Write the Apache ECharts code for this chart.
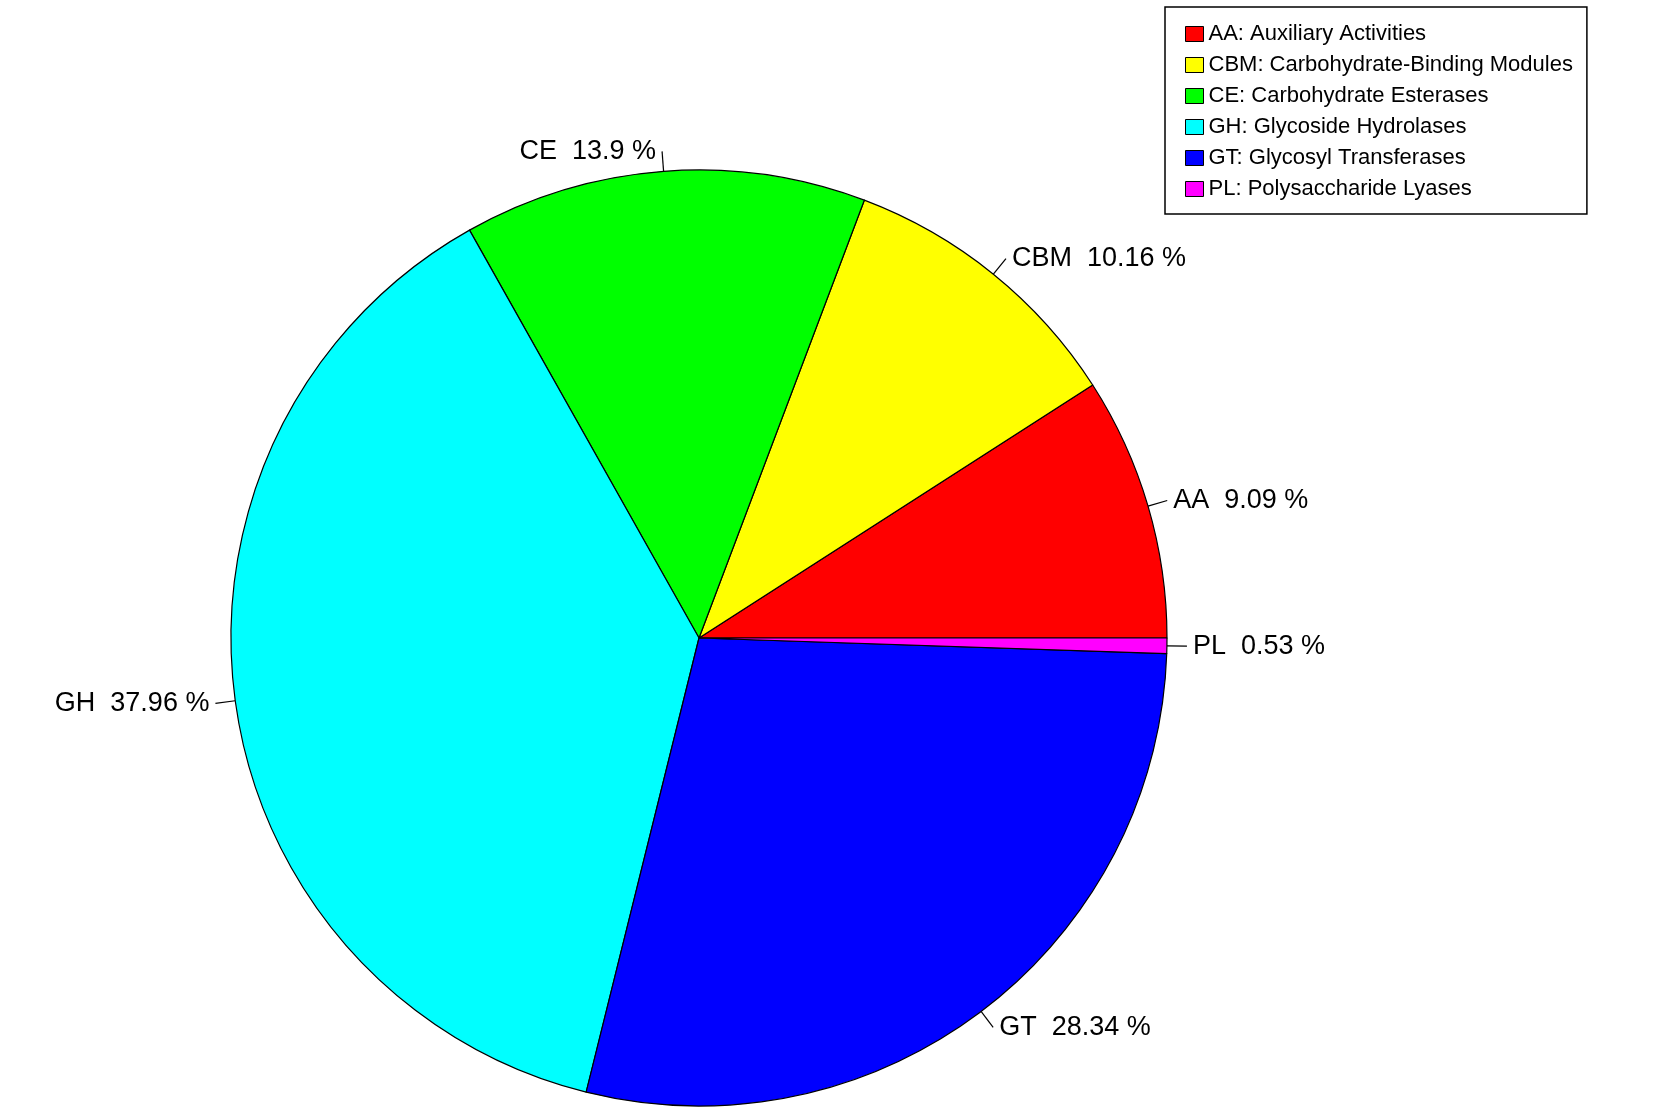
<!DOCTYPE html>
<html><head><meta charset="utf-8">
<script src="https://cdn.jsdelivr.net/npm/echarts@6/dist/echarts.min.js"></script>
<style>html,body{margin:0;background:#fff}#c{width:1665px;height:1113px}</style>
</head><body><div id="c"></div>
<script>
const codes = ['AA','CBM','CE','GH','GT','PL'];
const names = ['AA: Auxiliary Activities','CBM: Carbohydrate-Binding Modules','CE: Carbohydrate Esterases','GH: Glycoside Hydrolases','GT: Glycosyl Transferases','PL: Polysaccharide Lyases'];
const values = [9.09, 10.16, 13.9, 37.96, 28.34, 0.53];
const colors = ['#ff0000','#ffff00','#00ff00','#00ffff','#0000ff','#ff00ff'];
const chart = echarts.init(document.getElementById('c'));
chart.setOption({
  animation:false,
  legend:{
    orient:'vertical', left:1165, top:7, width:480,
    borderColor:'#000', borderWidth:1.5, borderRadius:0,
    padding:[16,14,14,20], itemGap:9, itemWidth:18, itemHeight:15,
    icon:'rect', data:names,
    textStyle:{fontFamily:'Liberation Sans', fontSize:22, color:'#000'},
    itemStyle:{borderColor:'#000', borderWidth:1}
  },
  series:[{
    type:'pie', center:[699,638], radius:468,
    startAngle:0, clockwise:false,
    data: names.map((n,i)=>({name:n, value:values[i], itemStyle:{color:colors[i]},
      label:{formatter: codes[i]+'  '+values[i]+' %'}})),
    itemStyle:{borderColor:'#000', borderWidth:1.2},
    label:{show:true, position:'outside', color:'#000', fontFamily:'Liberation Sans', fontSize:27, distanceToLabelLine:6},
    labelLine:{show:true, length:20, length2:0, lineStyle:{color:'#000', width:1.2}},
    avoidLabelOverlap:false
  }]
});
</script></body></html>
